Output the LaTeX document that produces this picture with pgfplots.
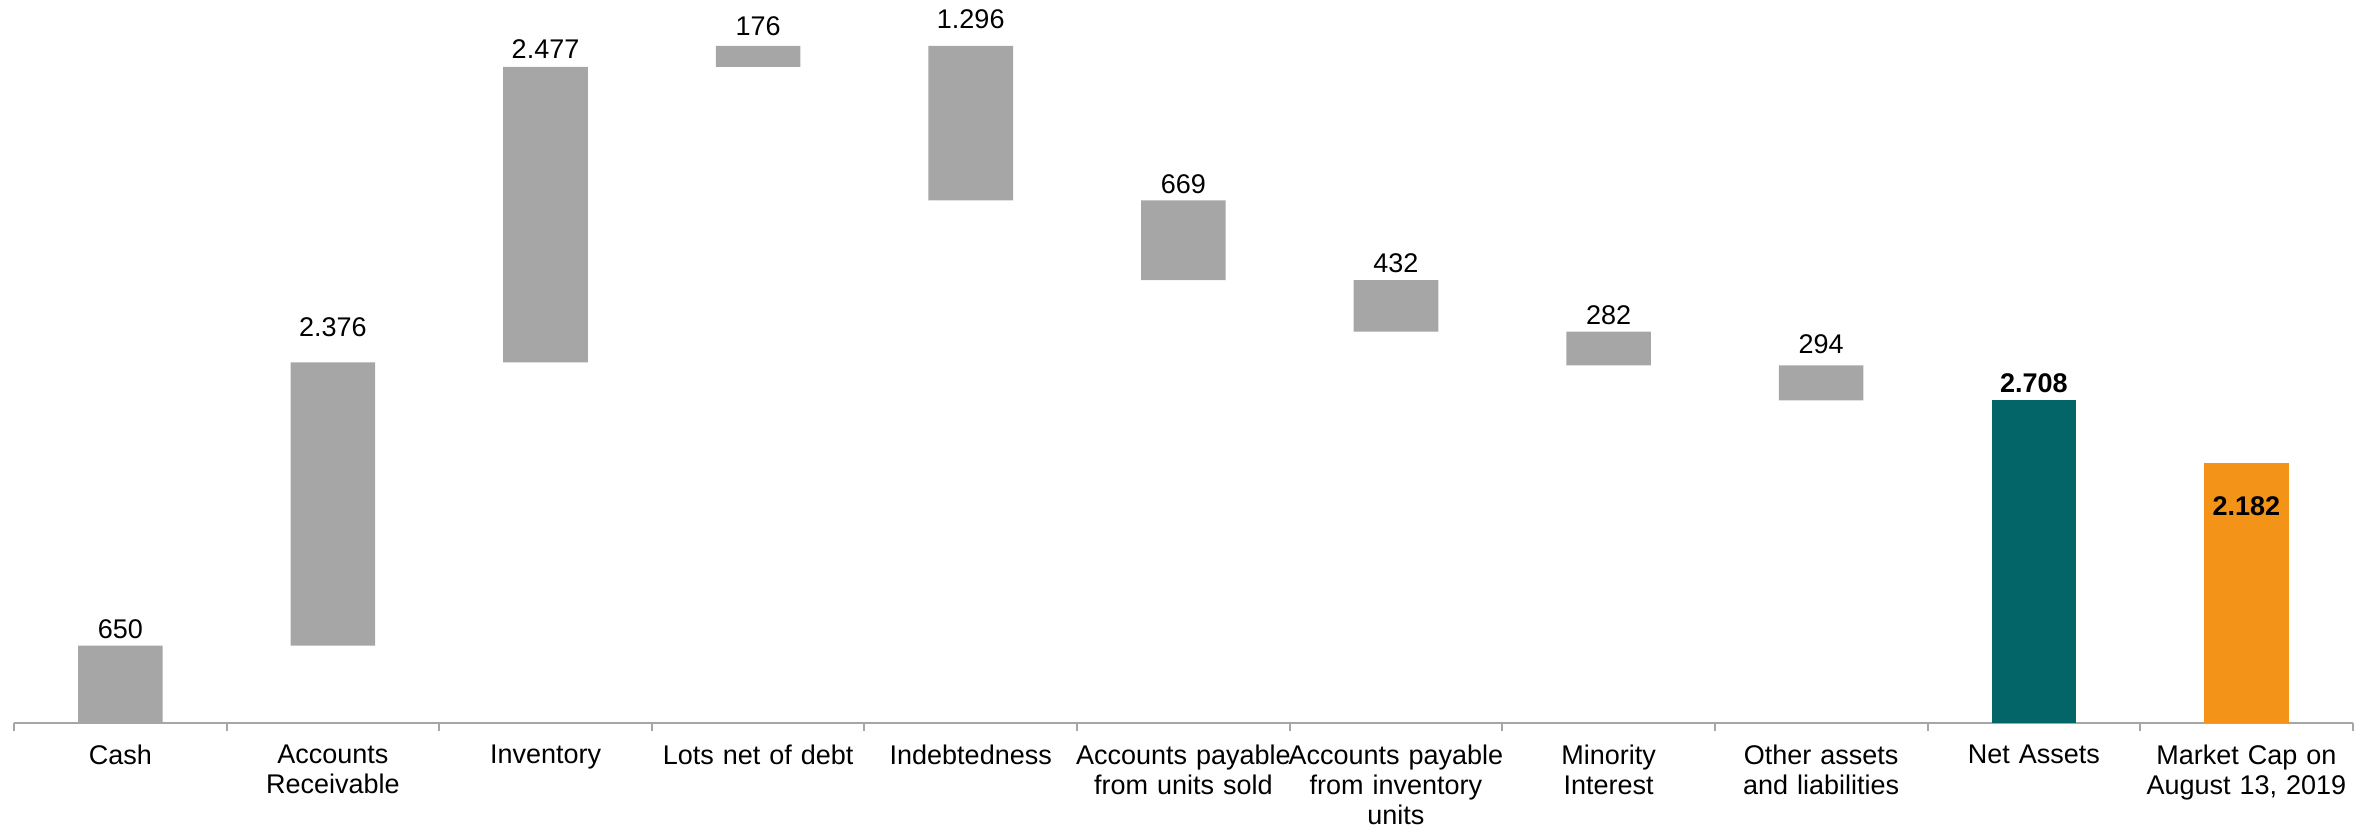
\documentclass[border=0pt]{standalone}
\usepackage{fontspec}
\setmainfont{Liberation Sans}
\usepackage{pgfplots}
\usepackage{pgfplotstable}
\pgfplotsset{compat=1.18}

\definecolor{stepgray}{HTML}{A6A6A6}
\definecolor{netteal}{HTML}{036567}
\definecolor{capamber}{HTML}{F39318}
\definecolor{axisgray}{HTML}{A6A6A6}

\newcommand\lbl{\fontsize{13.5}{15}\selectfont}
% points per data unit on the y axis (361.65pt over 6063)
\newcommand\ptper{0.059649}

% base = invisible offset, step = visible change, net / mcap = totals
\pgfplotstableread{
x  base  step  net   mcap  steplab  netlab  caplab  gap
0  0     650   0     0     650      {}      {}      3.3
1  650   2376  0     0     2.376    {}      {}      12.5
2  3026  2477  0     0     2.477    {}      {}      4
3  5503  176   0     0     176      {}      {}      5
4  4383  1296  0     0     1.296    {}      {}      8.5
5  3714  669   0     0     669      {}      {}      3
6  3282  432   0     0     432      {}      {}      3.5
7  3000  282   0     0     282      {}      {}      3.5
8  2706  294   0     0     294      {}      {}      5.5
9  0     0     2708  0     {}       2.708   {}      3.3
10 0     0     0     2182  {}       {}      2.182   -16.6
}\waterfall

\begin{document}
\begin{tikzpicture}
\begin{axis}[
  scale only axis,
  width=1169.5pt, height=361.65pt,
  ybar stacked, bar width=42.3pt,
  xmin=-0.5, xmax=10.5, ymin=0, ymax=6063,
  enlargelimits=false,
  clip=false,
  hide y axis,
  axis x line*=bottom,
  x axis line style={axisgray, line width=1pt, -},
  xtick={0,...,10},
  xticklabels={Cash, {Accounts\\Receivable}, Inventory, Lots net of debt,
    Indebtedness, {Accounts payable\\from units sold},
    {Accounts payable\\from inventory\\units}, {Minority\\Interest},
    {Other assets\\and liabilities}, Net Assets, {Market Cap on\\August 13, 2019}},
  major tick length=0pt,
  minor xtick={-0.5,0.5,...,10.5},
  minor tick length=4pt,
  tick align=outside,
  x tick style={axisgray, line width=1pt},
  xticklabel style={font=\lbl, text width=112pt, align=center,
    inner sep=0pt, anchor=north, yshift=-10.5pt},
]
\addplot[draw=none, fill=none] table[x=x, y=base] {\waterfall};
% value labels sit at the segment centre; lift them to the segment top
\addplot[draw=none, fill=stepgray,
  nodes near coords, point meta=explicit symbolic,
  visualization depends on={\thisrow{gap} + 0.5*\ptper*\thisrow{step} \as \labgap},
  every node near coord/.append style={font=\lbl, text=black,
    anchor=south, inner sep=0pt, yshift=\labgap}]
  table[x=x, y=step, meta=steplab] {\waterfall};
\addplot[draw=none, fill=netteal,
  nodes near coords, point meta=explicit symbolic,
  visualization depends on={\thisrow{gap} + 0.5*\ptper*\thisrow{net} \as \labgap},
  every node near coord/.append style={font=\lbl\bfseries, text=black,
    anchor=south, inner sep=0pt, yshift=\labgap}]
  table[x=x, y=net, meta=netlab] {\waterfall};
\addplot[draw=none, fill=capamber,
  nodes near coords, point meta=explicit symbolic,
  visualization depends on={\thisrow{gap} + 0.5*\ptper*\thisrow{mcap} \as \labgap},
  every node near coord/.append style={font=\lbl\bfseries, text=black,
    anchor=north, inner sep=0pt, yshift=\labgap}]
  table[x=x, y=mcap, meta=caplab] {\waterfall};
\end{axis}
\pgfresetboundingbox
\path ([xshift=-7pt,yshift=-54.35pt]current axis.south west)
  rectangle ([xshift=9.65pt]current axis.north east);
\end{tikzpicture}
\end{document}
